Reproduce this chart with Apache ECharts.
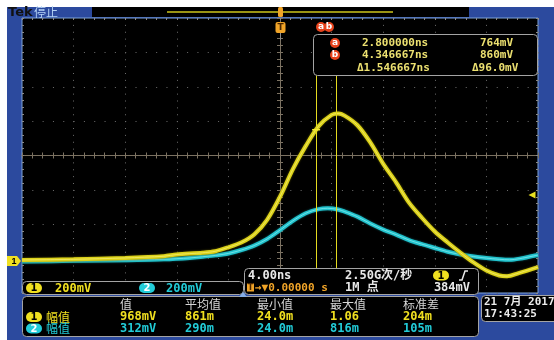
<!DOCTYPE html>
<html>
<head>
<meta charset="utf-8">
<script src="https://cdn.jsdelivr.net/npm/echarts@6/dist/echarts.min.js"></script>
<style>
  html, body { margin: 0; padding: 0; background: #fff; }
  #chart { width: 554px; height: 340px; }
</style>
</head>
<body>
<div id="chart"></div>
<script>
// channel 1 (yellow) and channel 2 (cyan) traces: time in ns, level in mV
const ch1Time = [-20, -16, -12, -9, -8, -6, -5, -4, -3, -2, -1, 0, 1, 2, 3, 4, 4.5, 5, 6, 7, 8, 9, 10, 11, 12, 13, 14, 15, 16, 17, 17.6, 18.5, 20];
const ch1Level = [6, 10, 18, 28, 38, 48, 57, 80, 108, 155, 240, 374, 535, 670, 785, 850, 858, 846, 790, 690, 565, 458, 340, 252, 172, 108, 48, -8, -55, -84, -88, -70, -35];
const ch2Time = [-20, -16, -12, -9, -7, -6, -5, -4, -3, -2, -1, 0, 1, 2, 3, 3.7, 4.5, 5, 6, 7, 8, 9, 10, 11, 12, 13, 14, 15, 16, 17, 17.8, 18.6, 20];
const ch2Level = [-3, 1, 5, 10, 18, 25, 33, 44, 64, 90, 128, 180, 234, 278, 302, 307, 300, 288, 258, 218, 183, 154, 122, 98, 76, 54, 38, 26, 17, 10, 7, 14, 35];

const cursorTimes = [2.8, 4.346667];
const cursorLevel = 764;
const triggerLevel = 384;

const readoutRows = [
  ["a", "2.800000ns", "764mV"],
  ["b", "4.346667ns", "860mV"],
];
const readoutDelta = ["\u03941.546667ns", "\u039496.0mV"];
const measHeaders = ["值", "平均值", "最小值", "最大值", "标准差"];
const ch1Meas = ["968mV", "861m", "24.0m", "1.06", "204m"];
const ch2Meas = ["312mV", "290m", "24.0m", "816m", "105m"];

// screen: 10 x 4ns horizontally, 8 x 200mV vertically, ground 0.9 div above bottom
const timeMin = -20, timeMax = 20;
const levelMin = -186, levelMax = 1414;
const cursorTop = 1082;

const YEL = "#dcd21a", CYN = "#22c2cc";
const MONO = '"DejaVu Sans Mono", "Noto Sans CJK SC", monospace';
const CJK = '"Noto Sans CJK SC", sans-serif';

function txt(x, y, text, fill, font, align) {
  return { type: "text", z: 100, style: { x, y, text, fill, font, textAlign: align || "left", textVerticalAlign: "middle" } };
}
function panel(x, y, w, h) {
  return { type: "rect", z: 90, shape: { x, y, width: w, height: h, r: 4 }, style: { fill: "#000", stroke: "#a4a4a4", lineWidth: 1 } };
}
function pill(x, y, label, fill, color) {
  return [
    { type: "rect", z: 95, shape: { x, y, width: 16, height: 10, r: 5 }, style: { fill } },
    txt(x + 8, y + 5.5, label, color, 'bold 10px "DejaVu Sans"', "center"),
  ];
}

const measCols = [120, 185, 257, 330, 403];
const graphics = [
  { type: "rect", z: -10, shape: { x: 7, y: 7, width: 547, height: 333 }, style: { fill: "#2c4a9e" } },
  txt(8, 12.5, "Tek", "#111", 'bold 13px "DejaVu Sans"'),
  txt(34, 12, "停止", "#b4d2f4", "12px " + CJK),
  { type: "rect", z: 80, shape: { x: 92, y: 7, width: 377, height: 10 }, style: { fill: "#000" } },
  { type: "line", z: 81, shape: { x1: 167, y1: 12, x2: 393, y2: 12 }, style: { stroke: "#9a9414", lineWidth: 2 } },
  { type: "rect", z: 82, shape: { x: 278, y: 7, width: 5, height: 10, r: 1.5 }, style: { fill: "#f0a428" } },
  { type: "rect", z: 82, shape: { x: 275.5, y: 22, width: 10, height: 11, r: 2 }, style: { fill: "#f0a428" } },
  txt(280.5, 28, "T", "#4a2600", 'bold 9px "DejaVu Sans"', "center"),
  { type: "line", z: 82, shape: { x1: 280.5, y1: 33, x2: 280.5, y2: 40 }, style: { stroke: "#8a8a8a", lineWidth: 1 } },

  // cursor readout
  { type: "circle", z: 95, shape: { cx: 321, cy: 27, r: 5 }, style: { fill: "#e8431c" } },
  { type: "circle", z: 95, shape: { cx: 329, cy: 27, r: 5 }, style: { fill: "#e8431c" } },
  txt(321, 27, "a", "#fff", 'bold 9px "DejaVu Sans"', "center"),
  txt(329, 27, "b", "#fff", 'bold 9px "DejaVu Sans"', "center"),
  panel(313.5, 34.5, 224, 41),
  ...readoutRows.flatMap((row, i) => [
    { type: "circle", z: 95, shape: { cx: 335, cy: 43 + i * 12, r: 5 }, style: { fill: "#e8431c" } },
    txt(335, 43 + i * 12, row[0], "#fff", 'bold 9px "DejaVu Sans"', "center"),
    txt(362, 43 + i * 12, row[1], "#ece070", "bold 11px " + MONO),
    txt(480, 43 + i * 12, row[2], "#ece070", "bold 11px " + MONO),
  ]),
  txt(357, 68, readoutDelta[0], "#ece070", "bold 11px " + MONO),
  txt(472, 68, readoutDelta[1], "#ece070", "bold 11px " + MONO),

  // channel scale panel
  panel(22.5, 281.5, 221, 13),
  ...pill(26, 283, "1", "#f0e020", "#000"),
  txt(55, 288.5, "200mV", "#f0e020", "bold 12px " + MONO),
  ...pill(139, 283, "2", "#22ccd8", "#fff"),
  txt(166, 288.5, "200mV", "#22ccd8", "bold 12px " + MONO),

  // timebase / trigger panel
  panel(244.5, 268.5, 234, 26),
  { type: "polygon", z: 96, shape: { points: [[239, 297], [247, 297], [243, 292]] }, style: { fill: "#86aee6" } },
  txt(248, 275.5, "4.00ns", "#e8e8e8", "bold 12px " + MONO),
  txt(345, 275.5, "2.50G次/秒", "#e8e8e8", "bold 12px " + MONO),
  ...pill(433, 270.5, "1", "#f0e020", "#000"),
  { type: "polyline", z: 96, shape: { points: [[459, 280], [462, 280], [465, 271], [468, 271]] }, style: { stroke: "#e8e8e8", lineWidth: 1.5 } },
  { type: "rect", z: 95, shape: { x: 247, y: 283.5, width: 7, height: 8 }, style: { fill: "#f0a428" } },
  txt(250.5, 288, "T", "#4a2600", 'bold 8px "DejaVu Sans"', "center"),
  txt(255, 288, "→▼0.00000 s", "#f0a428", "bold 11px " + MONO),
  txt(345, 288, "1M 点", "#e8e8e8", "bold 12px " + MONO),
  txt(470, 288, "384mV", "#e8e8e8", "bold 12px " + MONO, "right"),

  // measurement panel
  panel(22.5, 296.5, 456, 40),
  ...measHeaders.map((h, i) => txt(measCols[i], 304, h, "#d6d6d6", "12px " + CJK)),
  ...pill(26, 312, "1", "#f0e020", "#000"),
  txt(46, 317, "幅值", "#f0e020", "12px " + CJK),
  ...ch1Meas.map((v, i) => txt(measCols[i], 317, v, "#f0e020", "bold 12px " + MONO)),
  ...pill(26, 323.5, "2", "#22ccd8", "#fff"),
  txt(46, 328.5, "幅值", "#22ccd8", "12px " + CJK),
  ...ch2Meas.map((v, i) => txt(measCols[i], 328.5, v, "#22ccd8", "bold 12px " + MONO)),

  // date panel
  panel(481.5, 295.5, 80, 26),
  txt(484, 302, "21 7月 2017", "#ececec", "bold 11px " + MONO),
  txt(484, 314.5, "17:43:25", "#ececec", "bold 11px " + MONO),
];

const tickLine = { color: "#7c7262", width: 1 };
const centerAxis = (position) => ({
  type: "value", min: position === "top" || position === "bottom" ? -5 : -4,
  max: position === "top" || position === "bottom" ? 5 : 4, interval: 1, position,
  axisLine: { show: true, onZero: true, onZeroAxisIndex: 0, lineStyle: tickLine },
  axisTick: { show: true, length: 3, lineStyle: tickLine },
  minorTick: { show: true, splitNumber: 5, length: 3, lineStyle: tickLine },
  axisLabel: { show: false },
  splitLine: { show: false },
});
const borderAxis = (position) => ({
  type: "value", min: position === "top" ? -5 : -4, max: position === "top" ? 5 : 4, interval: 1, position,
  axisLine: { show: false, onZero: false },
  axisTick: { show: true, inside: true, length: 2, lineStyle: { color: "#8a8a8a" } },
  minorTick: { show: true, splitNumber: 5, length: 2, lineStyle: { color: "#8a8a8a" } },
  axisLabel: { show: false },
  splitLine: { show: false },
});

const xAxes = [
  Object.assign(centerAxis("bottom"), { splitLine: { show: true, lineStyle: { color: "#6c6c6c", type: [1, 5.875] } } }),
  { type: "value", min: timeMin, max: timeMax, show: false },
  centerAxis("top"),
  borderAxis("top"),
];
const yAxes = [
  Object.assign(centerAxis("left"), { splitLine: { show: true, lineStyle: { color: "#6c6c6c", type: [1, 9.32] } } }),
  { type: "value", min: levelMin, max: levelMax, show: false },
  centerAxis("right"),
  borderAxis("left"),
  borderAxis("right"),
];

const traceBase = { type: "line", xAxisIndex: 1, yAxisIndex: 1, smooth: 0.3, showSymbol: false };

const chart = echarts.init(document.getElementById("chart"), null, { renderer: "canvas" });
chart.setOption({
  animation: false,
  backgroundColor: "#fff",
  grid: { left: 22, top: 18, width: 516, height: 275, show: true, backgroundColor: "#000", borderColor: "#7aa2dc", borderWidth: 1 },
  xAxis: xAxes,
  yAxis: yAxes,
  graphic: graphics,
  series: [
    Object.assign({}, traceBase, {
      name: "CH2", z: 3,
      data: ch2Time.map((t, i) => [t, ch2Level[i]]),
      lineStyle: { color: CYN, width: 4, shadowColor: "#0e6a72", shadowBlur: 2 },
    }),
    Object.assign({}, traceBase, {
      name: "CH2 hi", z: 3,
      data: ch2Time.map((t, i) => [t, ch2Level[i]]),
      lineStyle: { color: "#8ceef2", width: 1, opacity: 0.7 },
    }),
    Object.assign({}, traceBase, {
      name: "CH1", z: 4,
      data: ch1Time.map((t, i) => [t, ch1Level[i]]),
      lineStyle: { color: YEL, width: 4, shadowColor: "#6a6400", shadowBlur: 2 },
      markLine: {
        silent: true, symbol: ["none", "none"], label: { show: false },
        lineStyle: { color: "#e4da20", width: 1, type: "solid" },
        data: cursorTimes.map((t) => [{ coord: [t, levelMin] }, { coord: [t, cursorTop] }]),
      },
      markPoint: {
        silent: true, label: { show: false },
        data: [
          { coord: [cursorTimes[0], cursorLevel], symbol: "rect", symbolSize: [8, 1.5], itemStyle: { color: "#f4ea30" } },
          { coord: [timeMax, triggerLevel], symbol: "triangle", symbolRotate: 90, symbolSize: [7, 7], symbolOffset: [-6, 0], itemStyle: { color: "#e8e020" } },
          {
            coord: [timeMin, 0], symbol: "path://M0,0L10,0L14,5L10,10L0,10Z", symbolKeepAspect: false,
            symbolSize: [14, 10], symbolOffset: [-8, 0], itemStyle: { color: "#f0e020" },
            label: { show: true, position: "inside", formatter: "1", color: "#000", fontSize: 9, fontWeight: "bold" },
          },
        ],
      },
    }),
    Object.assign({}, traceBase, {
      name: "CH1 hi", z: 4,
      data: ch1Time.map((t, i) => [t, ch1Level[i]]),
      lineStyle: { color: "#f6f07a", width: 1, opacity: 0.7 },
    }),
  ],
});
</script>
</body>
</html>
